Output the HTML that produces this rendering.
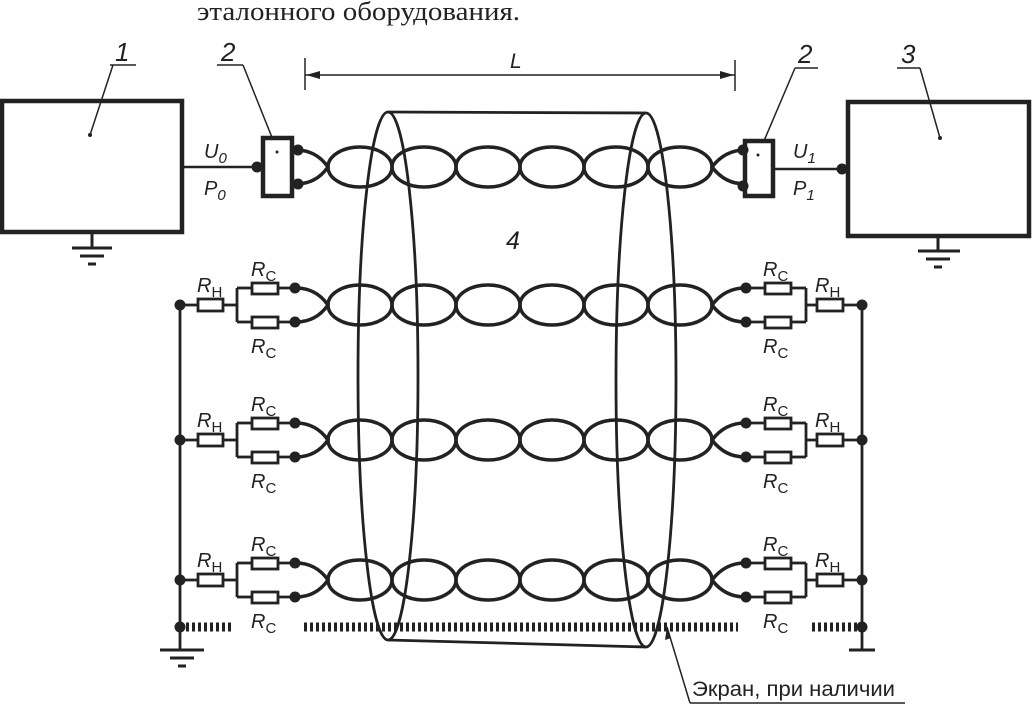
<!DOCTYPE html>
<html><head><meta charset="utf-8"><style>
html,body{margin:0;padding:0;background:#fff;}
svg{display:block}
text{font-family:"Liberation Sans",sans-serif;fill:#222}
.i{font-style:italic}
</style></head><body>
<svg width="1033" height="706" viewBox="0 0 1033 706" xmlns="http://www.w3.org/2000/svg">
<defs>
<g id="chain" fill="none" stroke="#222" stroke-width="3.5">
  <ellipse cx="360" cy="0" rx="32" ry="20"/>
  <ellipse cx="424" cy="0" rx="32" ry="20"/>
  <ellipse cx="488" cy="0" rx="32" ry="20"/>
  <ellipse cx="552" cy="0" rx="32" ry="20"/>
  <ellipse cx="616" cy="0" rx="32" ry="20"/>
  <ellipse cx="680" cy="0" rx="32" ry="20"/>
  <path d="M296,-17 Q316,-17 328,0 Q316,17 296,17"/>
  <path d="M745,-17 Q725,-17 712,0 Q725,17 745,17"/>
</g>
<g id="left" stroke="#222" stroke-width="2.8" fill="none">
  <line x1="180" y1="0" x2="198" y2="0"/>
  <rect x="198" y="-6" width="25" height="12" fill="#fff"/>
  <line x1="223" y1="0" x2="237" y2="0"/>
  <line x1="237" y1="-17" x2="237" y2="17"/>
  <line x1="237" y1="-17" x2="252" y2="-17"/><line x1="237" y1="17" x2="252" y2="17"/>
  <rect x="252" y="-22" width="26" height="11" fill="#fff"/>
  <rect x="252" y="12" width="26" height="11" fill="#fff"/>
  <line x1="278" y1="-17" x2="295" y2="-17"/><line x1="278" y1="17" x2="295" y2="17"/>
  <circle cx="180" cy="0" r="5.5" fill="#222" stroke="none"/>
  <circle cx="295" cy="-17" r="5.5" fill="#222" stroke="none"/>
  <circle cx="295" cy="17" r="5.5" fill="#222" stroke="none"/>
</g>
<g id="right" stroke="#222" stroke-width="2.8" fill="none">
  <line x1="862" y1="0" x2="843" y2="0"/>
  <rect x="817" y="-6" width="26" height="12" fill="#fff"/>
  <line x1="817" y1="0" x2="806" y2="0"/>
  <line x1="806" y1="-17" x2="806" y2="17"/>
  <line x1="806" y1="-17" x2="791" y2="-17"/><line x1="806" y1="17" x2="791" y2="17"/>
  <rect x="765" y="-22" width="26" height="11" fill="#fff"/>
  <rect x="765" y="12" width="26" height="11" fill="#fff"/>
  <line x1="765" y1="-17" x2="746" y2="-17"/><line x1="765" y1="17" x2="746" y2="17"/>
  <circle cx="862" cy="0" r="5.5" fill="#222" stroke="none"/>
  <circle cx="746" cy="-17" r="5.5" fill="#222" stroke="none"/>
  <circle cx="746" cy="17" r="5.5" fill="#222" stroke="none"/>
</g>
</defs>

<text x="197" y="20" textLength="323" lengthAdjust="spacingAndGlyphs" style="font-family:'Liberation Serif',serif;font-size:26px">эталонного оборудования.</text>

<!-- boxes -->
<rect x="2" y="101" width="180" height="131" fill="none" stroke="#222" stroke-width="4.5"/>
<rect x="848" y="102" width="181" height="134" fill="none" stroke="#222" stroke-width="4.5"/>
<circle cx="90" cy="135" r="2" fill="#222"/><circle cx="940" cy="138" r="2" fill="#222"/>
<g stroke="#222" stroke-width="3">
<line x1="92" y1="232" x2="92" y2="248"/><line x1="72" y1="248" x2="112" y2="248"/><line x1="80" y1="256" x2="104" y2="256"/><line x1="88" y1="264" x2="96" y2="264"/>
<line x1="938" y1="236" x2="938" y2="251"/><line x1="918" y1="251" x2="960" y2="251"/><line x1="926" y1="259" x2="950" y2="259"/><line x1="934" y1="267" x2="942" y2="267"/>
</g>

<!-- labels with leaders -->
<g stroke="#222" stroke-width="1.5">
<line x1="110" y1="65" x2="136" y2="65"/><line x1="113" y1="65" x2="90" y2="135"/>
<line x1="217" y1="65" x2="243" y2="65"/><line x1="243" y1="65" x2="277" y2="150"/>
<line x1="795" y1="68" x2="818" y2="68"/><line x1="795" y1="68" x2="758" y2="155"/>
<line x1="897" y1="68" x2="920" y2="68"/><line x1="920" y1="68" x2="940" y2="138"/>
</g>
<text x="115" y="61" class="i" font-size="26">1</text>
<text x="221" y="61" font-size="26" class="i">2</text>
<text x="798" y="63" font-size="26" class="i">2</text>
<text x="901" y="63" font-size="26" class="i">3</text>

<!-- dimension L -->
<g stroke="#222" stroke-width="1.5">
<line x1="305" y1="58" x2="305" y2="90"/><line x1="735" y1="60" x2="735" y2="91"/>
<line x1="305" y1="75" x2="735" y2="75"/>
</g>
<path d="M306,75 L320,71 L320,79Z M734,75 L720,71 L720,79Z" fill="#222"/>
<text x="510" y="68" class="i" font-size="21">L</text>

<!-- top line -->
<line x1="182" y1="167" x2="257" y2="167" stroke="#222" stroke-width="2.5"/>
<line x1="774" y1="169" x2="841" y2="169" stroke="#222" stroke-width="2.5"/>
<circle cx="257" cy="167" r="5.5" fill="#222"/><circle cx="842" cy="169" r="5.5" fill="#222"/>
<rect x="263" y="138" width="29" height="58" fill="#fff" stroke="#222" stroke-width="4.5"/>
<rect x="745" y="141" width="28" height="55" fill="#fff" stroke="#222" stroke-width="4.5"/>
<circle cx="277" cy="152" r="1.5" fill="#222"/><circle cx="758" cy="155" r="1.5" fill="#222"/>
<text x="204" y="158" class="i" font-size="20">U<tspan font-size="15" dy="5">0</tspan></text>
<text x="204" y="195" class="i" font-size="20">P<tspan font-size="15" dy="5">0</tspan></text>
<text x="793" y="158" class="i" font-size="20">U<tspan font-size="15" dy="5">1</tspan></text>
<text x="793" y="195" class="i" font-size="20">P<tspan font-size="15" dy="5">1</tspan></text>

<use href="#chain" y="167"/>
<use href="#chain" y="305"/>
<use href="#chain" y="440"/>
<use href="#chain" y="580"/>
<circle cx="298" cy="150" r="5.5" fill="#222"/><circle cx="298" cy="184" r="5.5" fill="#222"/>
<circle cx="743" cy="150" r="5.5" fill="#222"/><circle cx="743" cy="186" r="5.5" fill="#222"/>

<!-- buses -->
<line x1="180" y1="305" x2="180" y2="650" stroke="#222" stroke-width="2.8"/>
<line x1="862" y1="305" x2="862" y2="650" stroke="#222" stroke-width="2.8"/>
<use href="#left" y="305"/><use href="#left" y="440"/><use href="#left" y="580"/>
<use href="#right" y="305"/><use href="#right" y="440"/><use href="#right" y="580"/>

<!-- shield -->
<g stroke="#222" stroke-width="9" stroke-dasharray="3,3">
<line x1="186" y1="627" x2="233" y2="627"/>
<line x1="304" y1="627" x2="738" y2="627"/>
<line x1="812" y1="627" x2="858" y2="627"/>
</g>
<circle cx="180" cy="627" r="5.5" fill="#222"/><circle cx="862" cy="627" r="5.5" fill="#222"/>
<g stroke="#222" stroke-width="3">
<line x1="160" y1="650" x2="204" y2="650"/><line x1="170" y1="658" x2="194" y2="658"/><line x1="178" y1="666" x2="186" y2="666"/>
<line x1="849" y1="650" x2="875" y2="650"/>
</g>

<!-- cylinder -->
<g fill="none" stroke="#222" stroke-width="2.8">
<ellipse cx="388" cy="376" rx="30" ry="264"/>
<ellipse cx="646" cy="380" rx="30" ry="267"/>
<line x1="388" y1="112" x2="646" y2="113"/>
<line x1="388" y1="640" x2="646" y2="647"/>
</g>
<text x="506" y="249" class="i" font-size="25">4</text>

<!-- labels R -->
<g class="i" font-size="20">
<text x="197" y="292">R<tspan font-size="15" dy="5" font-style="normal">Н</tspan></text>
<text x="251" y="276">R<tspan font-size="15" dy="5" font-style="normal">С</tspan></text>
<text x="251" y="353">R<tspan font-size="15" dy="5" font-style="normal">С</tspan></text>
<text x="197" y="427">R<tspan font-size="15" dy="5" font-style="normal">Н</tspan></text>
<text x="251" y="411">R<tspan font-size="15" dy="5" font-style="normal">С</tspan></text>
<text x="251" y="488">R<tspan font-size="15" dy="5" font-style="normal">С</tspan></text>
<text x="197" y="567">R<tspan font-size="15" dy="5" font-style="normal">Н</tspan></text>
<text x="251" y="551">R<tspan font-size="15" dy="5" font-style="normal">С</tspan></text>
<text x="251" y="628">R<tspan font-size="15" dy="5" font-style="normal">С</tspan></text>
<text x="815" y="292">R<tspan font-size="15" dy="5" font-style="normal">Н</tspan></text>
<text x="763" y="276">R<tspan font-size="15" dy="5" font-style="normal">С</tspan></text>
<text x="763" y="353">R<tspan font-size="15" dy="5" font-style="normal">С</tspan></text>
<text x="815" y="427">R<tspan font-size="15" dy="5" font-style="normal">Н</tspan></text>
<text x="763" y="411">R<tspan font-size="15" dy="5" font-style="normal">С</tspan></text>
<text x="763" y="488">R<tspan font-size="15" dy="5" font-style="normal">С</tspan></text>
<text x="815" y="567">R<tspan font-size="15" dy="5" font-style="normal">Н</tspan></text>
<text x="763" y="551">R<tspan font-size="15" dy="5" font-style="normal">С</tspan></text>
<text x="763" y="628">R<tspan font-size="15" dy="5" font-style="normal">С</tspan></text>
</g>

<!-- screen annotation -->
<g stroke="#222" stroke-width="1.5">
<line x1="667" y1="627" x2="690" y2="703"/><line x1="690" y1="703" x2="905" y2="703"/>
</g>
<path d="M667,627 L665,640 L671,638Z" fill="#222"/>
<text x="692" y="696" font-size="21" textLength="203" lengthAdjust="spacingAndGlyphs">Экран, при наличии</text>
</svg>
</body></html>
